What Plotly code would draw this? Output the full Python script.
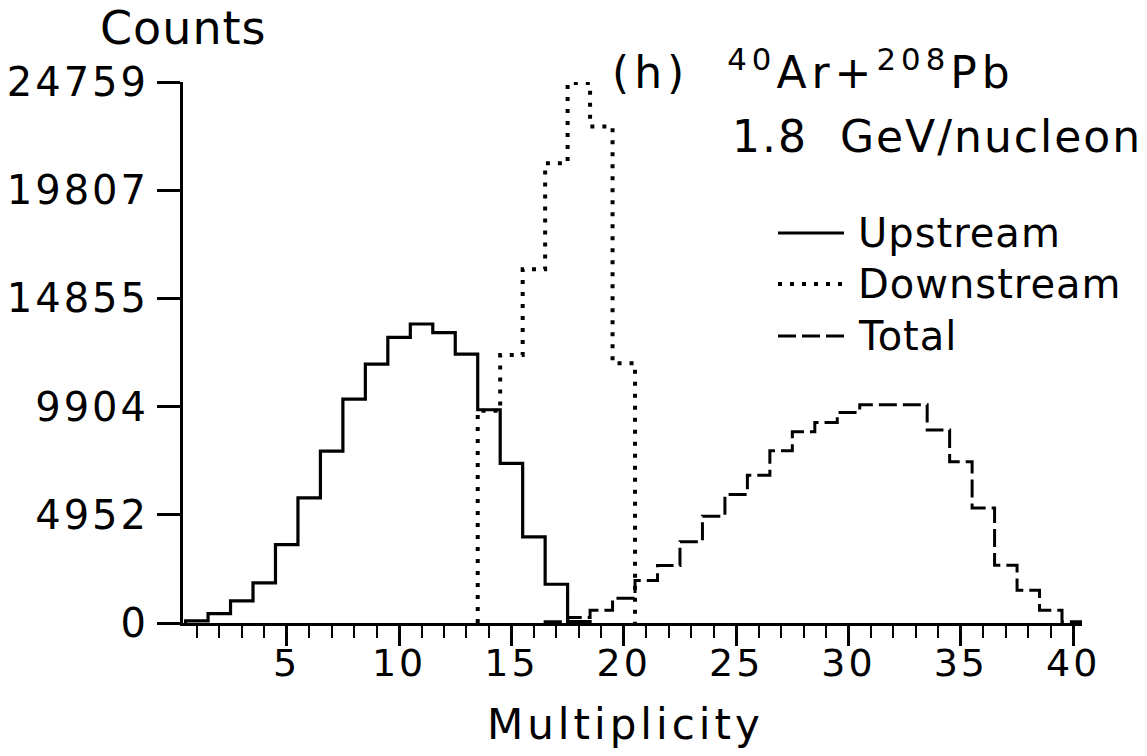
import plotly.graph_objects as go

# ---- data ----
up_bins = list(range(1, 19))
up_counts = [100, 430, 1008, 1832, 3591, 5726, 7865, 10247, 11851, 13074,
             13683, 13285, 12309, 9760, 7302, 3940, 1773, 60]

down_bins = list(range(14, 21))
down_counts = [9711, 12263, 16189, 21044, 24709, 22721, 11882]

tot_bins = list(range(17, 41))
tot_counts = [60, 250, 582, 1130, 1940, 2636, 3720, 4888, 5882, 6766, 7879,
              8750, 9180, 9638, 9990, 9990, 9990, 8827, 7375, 5268, 2643,
              1498, 582, 60]

y_ticks = [0, 4952, 9904, 14855, 19807, 24759]
x_ticks = [5, 10, 15, 20, 25, 30, 35, 40]

FONT = "DejaVu Sans"


def spaced(s, px):
    return '<span style="letter-spacing:%dpx">%s</span>' % (px, s)


def steps(bins, counts):
    # histogram outline: left edges + closing edge, dropping to zero at both ends
    xs = [bins[0] - 0.5] + [b - 0.5 for b in bins] + [bins[-1] + 0.5]
    ys = [0] + list(counts) + [0]
    return xs, ys


# plot-area geometry (pixels) used only to place the free texts
L, R, T, B = 183, 65, 82, 133
PW, PH = 1147 - L - R, 756 - T - B


def px(x):
    return (x - L) / PW


def py(y):
    return (756 - B - y) / PH


fig = go.Figure()
for bins, counts, dash, name, w in [
    (up_bins, up_counts, "solid", "Upstream", 3.2),
    (down_bins, down_counts, "4px,8px", "Downstream", 4),
    (tot_bins, tot_counts, "18px,6px", "Total", 3),
]:
    xs, ys = steps(bins, counts)
    fig.add_trace(go.Scatter(x=xs, y=ys, mode="lines", name=name,
                             line=dict(shape="hv", color="black", width=w, dash=dash),
                             showlegend=False, hoverinfo="skip"))

# legend drawn as samples + text (as in the original figure)
legend_items = [("solid", "Upstream", 3.2), ("4px,8px", "Downstream", 4), ("18px,6px", "Total", 3)]
legend_y = [233, 284, 336]
for (dash, name, w), yy in zip(legend_items, legend_y):
    fig.add_shape(type="line", xref="paper", yref="paper",
                  x0=px(778), x1=px(844), y0=py(yy), y1=py(yy),
                  line=dict(color="black", width=w, dash=dash))
    fig.add_annotation(text=spaced(name, 1), xref="paper", yref="paper",
                       x=px(856), y=py(yy),
                       xanchor="left", yanchor="middle", showarrow=False,
                       font=dict(family=FONT, size=40, color="black"))

fig.add_annotation(text=spaced("(h)  <sup>40</sup>Ar+<sup>208</sup>Pb", 5),
                   xref="paper", yref="paper", x=px(610), y=py(70),
                   xanchor="left", yanchor="middle", showarrow=False,
                   font=dict(family=FONT, size=44, color="black"))
fig.add_annotation(text=spaced("1.8  GeV/nucleon", 2), xref="paper", yref="paper",
                   x=px(730), y=py(136),
                   xanchor="left", yanchor="middle", showarrow=False,
                   font=dict(family=FONT, size=44, color="black"))
fig.add_annotation(text=spaced("Counts", 1), xref="paper", yref="paper",
                   x=px(183), y=py(28),
                   xanchor="center", yanchor="middle", showarrow=False,
                   font=dict(family=FONT, size=46, color="black"))
fig.add_annotation(text=spaced("Multiplicity", 4), xref="paper", yref="paper",
                   x=px(625), y=py(724),
                   xanchor="center", yanchor="middle", showarrow=False,
                   font=dict(family=FONT, size=42, color="black"))

fig.update_layout(
    width=1147, height=756,
    margin=dict(l=L, r=R, t=T, b=B, autoexpand=False),
    paper_bgcolor="white", plot_bgcolor="white",
    xaxis=dict(range=[0.385, 40.39], showgrid=False, zeroline=False,
               showline=True, linecolor="black", linewidth=3, automargin=False,
               tickmode="array", tickvals=x_ticks,
               ticktext=[spaced(str(v), 3) for v in x_ticks],
               ticks="outside", ticklen=20, tickwidth=2.5, tickcolor="black",
               ticklabelstandoff=-16,
               minor=dict(dtick=1, tick0=0, ticks="outside", ticklen=12,
                          tickwidth=2, tickcolor="black", showgrid=False),
               tickfont=dict(family=FONT, size=38, color="black")),
    yaxis=dict(range=[0, 24759], showgrid=False, zeroline=False,
               showline=True, linecolor="black", linewidth=3, automargin=False,
               tickmode="array", tickvals=y_ticks,
               ticktext=[spaced(str(v), 3) for v in y_ticks],
               ticks="outside", ticklen=23, tickwidth=2.5, tickcolor="black",
               tickfont=dict(family=FONT, size=40, color="black")),
)

fig.write_html("out.html")
